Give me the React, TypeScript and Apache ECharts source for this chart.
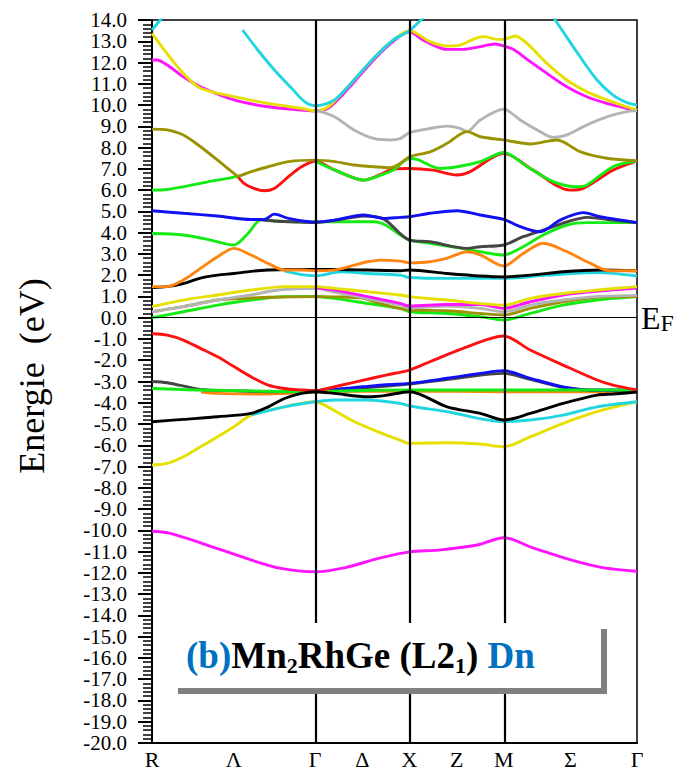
import { useEffect, useRef } from "react";
import * as echarts from "echarts";

// Path R–Γ–X–M–Γ of the simple-cubic Brillouin zone, segment lengths in units of 2π/a
const segmentLengths = [Math.sqrt(3) / 2, 0.5, 0.5, Math.SQRT1_2];
// Label of each high-symmetry point and of each segment midpoint, positions in path units (segment index + fraction)
const kLabelPositions = [0, 0.5, 1, 1.5, 2, 2.5, 3, 3.5, 4];
const kLabelTexts = ["R", "Λ", "Γ", "Δ", "X", "Z", "M", "Σ", "Γ"];
const symmetryLinePositions = [1, 2, 3];

// y-axis range (eV)
const energyMin = -20;
const energyMax = 14;

// Bands, each as [path position, energy in eV]
const cyanHighR = [[0, 13.53], [0.05, 14.0], [0.1, 14.5]];
const cyanHighGamma = [[0.555, 13.53], [0.648, 12.59], [0.75, 11.65], [0.854, 10.8], [0.935, 10.16], [1, 9.97], [1.203, 10.24], [1.411, 11.18], [1.62, 12.2], [1.828, 13.06], [2, 13.5], [2.144, 14.1], [2.2, 14.4]];
const cyanHighM = [[3.35, 14.3], [3.386, 14.0], [3.573, 12.27], [3.7, 11.18], [3.82, 10.47], [3.923, 10.12], [4, 10.0]];
const yellowHigh = [[0, 13.37], [0.091, 12.43], [0.192, 11.49], [0.297, 10.79], [0.502, 10.4], [0.712, 10.08], [0.916, 9.85], [1, 9.73], [1.1375, 9.92], [1.346, 10.86], [1.554, 11.88], [1.7625, 12.82], [2, 13.5], [2.218, 12.98], [2.396, 12.78], [2.537, 12.82], [2.676, 13.09], [2.782, 13.22], [2.928, 13.09], [3, 13.09], [3.086, 13.25], [3.174, 12.9], [3.324, 11.96], [3.473, 11.18], [3.623, 10.63], [3.773, 10.24], [3.923, 9.92], [4, 9.77]];
const magentaHigh = [[0, 12.12], [0.03, 12.12], [0.093, 11.88], [0.192, 11.33], [0.297, 10.86], [0.502, 10.24], [0.712, 9.92], [0.916, 9.77], [1, 9.72], [1.1375, 9.85], [1.346, 10.75], [1.554, 11.8], [1.7625, 12.75], [2, 13.45], [2.144, 13.06], [2.289, 12.75], [2.396, 12.62], [2.569, 12.62], [2.751, 12.75], [2.91, 12.87], [3, 12.78], [3.071, 12.62], [3.199, 12.04], [3.324, 11.49], [3.473, 10.86], [3.623, 10.39], [3.773, 10.08], [3.923, 9.85], [4, 9.74]];
const grayHigh = [[1, 9.77], [1.203, 9.45], [1.411, 8.83], [1.62, 8.43], [1.797, 8.36], [1.9, 8.42], [2, 8.7], [2.218, 8.9], [2.399, 9.01], [2.537, 8.9], [2.612, 8.76], [2.751, 9.3], [3, 9.8], [3.124, 9.3], [3.251, 8.83], [3.371, 8.48], [3.476, 8.6], [3.625, 9.07], [3.775, 9.45], [3.925, 9.69], [4, 9.74]];
const oliveHigh = [[0, 8.87], [0.093, 8.83], [0.192, 8.59], [0.297, 8.04], [0.402, 7.41], [0.502, 6.79], [0.526, 6.66], [0.607, 6.87], [0.712, 7.1], [0.836, 7.34], [1, 7.41], [1.203, 7.34], [1.411, 7.18], [1.62, 7.1], [1.797, 7.05], [1.9, 7.25], [2, 7.57], [2.218, 7.8], [2.399, 8.2], [2.612, 8.75], [2.751, 8.51], [3, 8.36], [3.199, 8.17], [3.4, 8.36], [3.573, 7.81], [3.775, 7.5], [4, 7.38]];
const greenSixR = [[0, 6.0], [0.093, 6.03], [0.192, 6.16], [0.341, 6.39], [0.464, 6.55], [0.526, 6.66]];
const redSix = [[0.526, 6.63], [0.563, 6.32], [0.625, 6.08], [0.687, 5.97], [0.749, 6.08], [0.836, 6.63], [0.916, 7.1], [1, 7.36], [1.203, 6.95], [1.516, 6.47], [1.724, 6.8], [1.828, 7.0], [2, 7.02], [2.25, 6.94], [2.505, 6.71], [2.644, 6.87], [3, 7.73], [3.221, 6.94], [3.498, 6.0], [3.596, 6.08], [3.82, 6.94], [4, 7.38]];
const greenSeven = [[1, 7.36], [1.203, 6.95], [1.516, 6.47], [1.745, 6.79], [1.828, 6.94], [2, 7.49], [2.08, 7.45], [2.324, 7.02], [2.505, 7.1], [2.751, 7.34], [3, 7.77], [3.176, 7.1], [3.371, 6.4], [3.551, 6.16], [3.625, 6.24], [3.82, 7.1], [4, 7.38]];
const greenFour = [[0, 3.96], [0.192, 3.89], [0.359, 3.65], [0.502, 3.42], [0.588, 3.96], [0.669, 4.62], [0.75, 4.55], [1, 4.5], [1.203, 4.51], [1.495, 4.51], [1.62, 4.51], [1.75, 4.35], [1.9, 3.9], [2, 3.65], [2.218, 3.5], [2.505, 3.3], [2.751, 3.1], [3, 2.95], [3.146, 3.34], [3.296, 3.89], [3.476, 4.36], [3.625, 4.47], [4, 4.47]];
const darkGrayFour = [[0.65, 4.62], [0.75, 4.55], [0.9, 4.5], [1, 4.48], [1.203, 4.57], [1.516, 4.78], [1.724, 4.65], [1.9, 3.96], [2, 3.65], [2.218, 3.57], [2.612, 3.26], [2.751, 3.34], [3, 3.42], [3.146, 3.81], [3.296, 4.12], [3.476, 4.51], [3.625, 4.72], [3.82, 4.59], [4, 4.47]];
const blueFive = [[0, 5.03], [0.192, 4.91], [0.402, 4.78], [0.607, 4.62], [0.687, 4.62], [0.749, 4.87], [0.836, 4.67], [0.96, 4.51], [1, 4.5], [1.203, 4.59], [1.516, 4.83], [1.724, 4.67], [1.901, 4.72], [2, 4.75], [2.218, 4.91], [2.505, 5.03], [2.751, 4.83], [3, 4.62], [3.124, 4.28], [3.273, 4.04], [3.423, 4.59], [3.596, 4.94], [3.723, 4.75], [4, 4.47]];
const cyanTwo = [[0.811, 2.2], [0.9, 2.05], [1, 1.97], [1.276, 2.16], [1.557, 2.08], [1.901, 2.0], [2, 1.89], [2.399, 1.85], [3, 1.85], [3.326, 2.0], [3.7, 2.12], [4, 1.96]];
const blackTwo = [[0, 1.42], [0.093, 1.46], [0.192, 1.6], [0.297, 1.86], [0.402, 2.0], [0.502, 2.08], [0.607, 2.18], [0.712, 2.24], [0.836, 2.27], [1, 2.27], [1.203, 2.27], [1.557, 2.24], [1.901, 2.21], [2, 2.24], [2.399, 2.08], [2.751, 1.96], [3, 1.92], [3.199, 2.0], [3.446, 2.16], [3.723, 2.24], [4, 2.21]];
const orangeTwo = [[0, 1.46], [0.093, 1.46], [0.192, 1.77], [0.297, 2.32], [0.402, 2.87], [0.502, 3.26], [0.607, 2.95], [0.712, 2.55], [0.811, 2.24], [0.916, 2.24], [1, 2.21], [1.203, 2.24], [1.411, 2.47], [1.557, 2.63], [1.693, 2.71], [1.901, 2.66], [2, 2.58], [2.218, 2.63], [2.399, 2.8], [2.612, 3.1], [2.751, 2.95], [3, 2.43], [3.146, 3.02], [3.296, 3.5], [3.476, 3.1], [3.625, 2.63], [3.798, 2.21], [4, 2.21]];
const greenZero = [[0, 0.0], [0.192, 0.28], [0.402, 0.59], [0.607, 0.83], [0.811, 0.99], [1, 1.0], [1.203, 0.91], [1.557, 0.67], [1.901, 0.44], [2, 0.28], [2.399, 0.2], [2.751, 0.05], [3, -0.11], [3.199, 0.2], [3.446, 0.59], [3.7, 0.83], [4, 0.99]];
const oliveOne = [[0, 0.28], [0.192, 0.52], [0.402, 0.83], [0.6, 0.92], [0.712, 0.96], [1, 0.99], [1.245, 0.98], [1.495, 0.92], [1.745, 0.6], [2, 0.36], [2.399, 0.33], [2.751, 0.2], [3, 0.13], [3.199, 0.44], [3.446, 0.75], [3.7, 0.96], [4, 0.99]];
const grayOne = [[0, 0.28], [0.192, 0.52], [0.402, 0.83], [0.607, 1.07], [0.774, 1.3], [1, 1.38], [1.203, 1.2], [1.557, 0.9], [1.901, 0.6], [2, 0.45], [2.399, 0.55], [2.751, 0.44], [3, 0.28], [3.199, 0.59], [3.446, 0.83], [3.7, 0.99], [4, 1.05]];
const magentaOne = [[1, 1.42], [1.203, 1.3], [1.557, 0.99], [1.901, 0.67], [2, 0.55], [2.399, 0.62], [2.751, 0.62], [3, 0.44], [3.199, 0.75], [3.446, 1.07], [3.7, 1.25], [4, 1.4]];
const yellowOne = [[0, 0.52], [0.192, 0.83], [0.402, 1.07], [0.607, 1.3], [0.811, 1.46], [1, 1.46], [1.203, 1.38], [1.557, 1.22], [1.901, 1.07], [2, 0.99], [2.399, 0.83], [2.751, 0.67], [3, 0.59], [3.199, 0.91], [3.446, 1.14], [3.7, 1.3], [4, 1.46]];
const redMinusOne = [[0, -0.74], [0.093, -0.82], [0.192, -1.05], [0.297, -1.44], [0.402, -1.84], [0.502, -2.3], [0.607, -2.78], [0.712, -3.17], [0.811, -3.33], [0.916, -3.4], [1, -3.43], [1.25, -3.2], [1.5, -2.95], [1.75, -2.7], [2, -2.46], [2.218, -2.07], [2.569, -1.44], [3, -0.86], [3.199, -1.52], [3.446, -2.23], [3.7, -2.93], [3.82, -3.17], [4, -3.4]];
const orangeMinusThree = [[0.3, -3.5], [0.402, -3.56], [0.669, -3.59], [1, -3.5], [2, -3.45], [3, -3.48], [4, -3.48]];
const darkGrayMinusThree = [[0, -3.0], [0.093, -3.06], [0.297, -3.37], [0.502, -3.43], [0.712, -3.48], [1, -3.45], [1.5, -3.3], [2, -3.12], [2.5, -2.85], [3, -2.62], [3.2, -2.9], [3.45, -3.28], [3.7, -3.42], [4, -3.42]];
const blueMinusThree = [[1, -3.43], [1.25, -3.35], [1.5, -3.25], [1.75, -3.15], [2, -3.09], [2.399, -2.85], [2.751, -2.62], [3, -2.49], [3.199, -2.85], [3.446, -3.25], [3.7, -3.4], [4, -3.4]];
const greenMinusThree = [[0, -3.33], [0.297, -3.4], [1, -3.48], [1.5, -3.42], [2, -3.4], [3, -3.4], [4, -3.4]];
const yellowMinusSeven = [[0, -6.93], [0.093, -6.85], [0.192, -6.54], [0.297, -6.07], [0.402, -5.6], [0.502, -5.13], [0.607, -4.58], [0.811, -4.19], [1, -3.95], [1.099, -4.11], [1.38, -4.81], [1.661, -5.36], [1.901, -5.76], [2, -5.91], [2.399, -5.88], [2.751, -5.94], [3, -6.07], [3.199, -5.6], [3.446, -4.97], [3.7, -4.42], [4, -3.95]];
const cyanMinusFour = [[0.607, -4.58], [0.811, -4.19], [1, -3.95], [1.203, -3.87], [1.557, -3.87], [1.901, -4.03], [2, -4.15], [2.399, -4.42], [3, -4.89], [3.199, -4.81], [3.446, -4.58], [3.7, -4.19], [4, -3.95]];
const blackMinusFive = [[0, -4.89], [0.192, -4.78], [0.402, -4.66], [0.607, -4.5], [0.712, -4.19], [0.811, -3.8], [0.916, -3.56], [1, -3.48], [1.203, -3.56], [1.557, -3.72], [1.75, -3.65], [2, -3.48], [2.399, -4.19], [2.751, -4.5], [3, -4.81], [3.199, -4.5], [3.446, -4.03], [3.7, -3.64], [3.82, -3.59], [4, -3.5]];
const magentaMinusTen = [[0, -10.04], [0.1, -10.12], [0.31, -10.62], [0.61, -11.4], [0.79, -11.79], [1, -11.95], [1.32, -11.75], [1.67, -11.32], [2, -11.01], [2.31, -10.93], [2.72, -10.69], [3, -10.35], [3.23, -10.85], [3.51, -11.4], [3.74, -11.75], [4, -11.92]];

const CYAN = "#1fd6e0";
const YELLOW = "#e6df00";
const MAGENTA = "#ff14ff";
const GRAY = "#b4b4b4";
const OLIVE = "#9a9200";
const GREEN = "#14ea14";
const RED = "#ff1010";
const BLUE = "#1010f2";
const DARKGRAY = "#454545";
const ORANGE = "#ff8410";
const BLACK = "#000000";
const TITLE_BLUE = "#0070c0";

// Drawing order: later entries are painted on top
const bands: [number[][], string][] = [
  [magentaHigh, MAGENTA],
  [yellowHigh, YELLOW],
  [grayHigh, GRAY],
  [cyanHighR, CYAN],
  [cyanHighGamma, CYAN],
  [cyanHighM, CYAN],
  [redSix, RED],
  [greenSixR, GREEN],
  [greenSeven, GREEN],
  [oliveHigh, OLIVE],
  [greenFour, GREEN],
  [darkGrayFour, DARKGRAY],
  [blueFive, BLUE],
  [cyanTwo, CYAN],
  [blackTwo, BLACK],
  [orangeTwo, ORANGE],
  [greenZero, GREEN],
  [oliveOne, OLIVE],
  [grayOne, GRAY],
  [magentaOne, MAGENTA],
  [yellowOne, YELLOW],
  [orangeMinusThree, ORANGE],
  [darkGrayMinusThree, DARKGRAY],
  [blueMinusThree, BLUE],
  [greenMinusThree, GREEN],
  [redMinusOne, RED],
  [yellowMinusSeven, YELLOW],
  [cyanMinusFour, CYAN],
  [blackMinusFive, BLACK],
  [magentaMinusTen, MAGENTA],
];

const segmentStarts = segmentLengths.reduce<number[]>((acc, len, i) => {
  acc.push(i === 0 ? 0 : acc[i - 1] + segmentLengths[i - 1]);
  return acc;
}, []);
const pathLength = segmentStarts[3] + segmentLengths[3];

// Path position (segment index + fraction) to k distance
function kOf(s: number): number {
  const seg = Math.min(Math.floor(s), 3);
  return segmentStarts[seg] + (s - seg) * segmentLengths[seg];
}

const SERIF = "'Liberation Serif', 'Times New Roman', serif";

export default function App() {
  const ref = useRef<HTMLDivElement>(null);

  useEffect(() => {
    if (!ref.current) return;
    const chart = echarts.init(ref.current, undefined, { renderer: "svg" });
    const labelKs = kLabelPositions.map(kOf);

    const bandSeries = bands.map(([pts, color]) => ({
      type: "line",
      data: pts.map(([s, e]) => [kOf(s), e]),
      showSymbol: false,
      symbol: "none",
      smooth: 0.3,
      silent: true,
      z: 3,
      lineStyle: { color, width: 2.9 },
      itemStyle: { color },
    }));

    chart.setOption({
      animation: false,
      backgroundColor: "#ffffff",
      grid: {
        left: 152,
        right: 54,
        top: 20,
        bottom: 28,
        show: true,
        borderColor: "#000",
        borderWidth: 1.5,
      },
      xAxis: {
        type: "value",
        min: 0,
        max: pathLength,
        splitLine: { show: false },
        axisLine: { show: true, onZero: false, lineStyle: { color: "#000", width: 2 } },
        axisTick: { show: false },
        axisLabel: {
          show: true,
          customValues: labelKs,
          formatter: (v: number) => {
            const i = labelKs.findIndex((k) => Math.abs(k - v) < 1e-6);
            return i >= 0 ? kLabelTexts[i] : "";
          },
          fontFamily: SERIF,
          fontSize: 22,
          color: "#000",
          margin: 5,
        },
      },
      yAxis: {
        type: "value",
        min: energyMin,
        max: energyMax,
        interval: 1,
        splitLine: { show: false },
        axisLine: { show: true, lineStyle: { color: "#000", width: 2 } },
        axisTick: { show: true, length: 14, lineStyle: { color: "#000", width: 2 } },
        minorTick: { show: true, splitNumber: 5, length: 9, lineStyle: { color: "#000", width: 1.5 } },
        axisLabel: {
          formatter: (v: number) => v.toFixed(1),
          fontFamily: SERIF,
          fontSize: 21,
          color: "#000",
          margin: 25,
          showMinLabel: true,
          showMaxLabel: true,
        },
      },
      series: [
        {
          type: "line",
          data: [],
          silent: true,
          z: 2,
          markLine: {
            silent: true,
            symbol: "none",
            label: { show: false },
            lineStyle: { color: "#000", width: 1, type: "solid" },
            data: [{ yAxis: 0 }],
          },
        },
        ...bandSeries,
        {
          type: "line",
          data: [],
          silent: true,
          z: 4,
          markLine: {
            silent: true,
            symbol: "none",
            label: { show: false },
            lineStyle: { color: "#000", width: 2.2, type: "solid" },
            data: symmetryLinePositions.map((s) => ({ xAxis: kOf(s) })),
          },
        },
      ],
      graphic: [
        {
          type: "text",
          x: 32,
          y: 376,
          rotation: Math.PI / 2,
          z: 100,
          style: {
            text: "Energie  (eV)",
            font: `36px ${SERIF}`,
            fill: "#000",
            textAlign: "center",
            textVerticalAlign: "middle",
          },
        },
        {
          type: "text",
          x: 641,
          y: 318,
          z: 100,
          style: {
            text: "{e|E}{f|F}",
            fill: "#000",
            textAlign: "left",
            textVerticalAlign: "middle",
            rich: {
              e: { fontFamily: SERIF, fontSize: 32, lineHeight: 34, fill: "#000" },
              f: { fontFamily: SERIF, fontSize: 24, lineHeight: 14, verticalAlign: "bottom", fill: "#000" },
            },
          },
        },
        {
          type: "rect",
          z: 100,
          shape: { x: 178, y: 629, width: 429, height: 65 },
          style: { fill: "#808080" },
        },
        {
          type: "rect",
          z: 101,
          shape: { x: 172, y: 623, width: 429, height: 65 },
          style: { fill: "#ffffff" },
        },
        {
          type: "text",
          x: 186,
          y: 655,
          z: 102,
          style: {
            text: "{b|(b)}{k|Mn}{s|2}{k|RhGe (L2}{s|1}{k|) }{b|Dn}",
            textAlign: "left",
            textVerticalAlign: "middle",
            rich: {
              b: { fontFamily: SERIF, fontWeight: "bold", fontSize: 37, lineHeight: 42, fill: TITLE_BLUE },
              k: { fontFamily: SERIF, fontWeight: "bold", fontSize: 37, lineHeight: 42, fill: "#000" },
              s: { fontFamily: SERIF, fontWeight: "bold", fontSize: 22, lineHeight: 16, fill: "#000", verticalAlign: "bottom" },
            },
          },
        },
      ],
    });

    return () => chart.dispose();
  }, []);

  return (
    <div
      ref={ref}
      style={{ position: "absolute", left: 0, top: 0, width: 691, height: 771, background: "#fff" }}
    />
  );
}
